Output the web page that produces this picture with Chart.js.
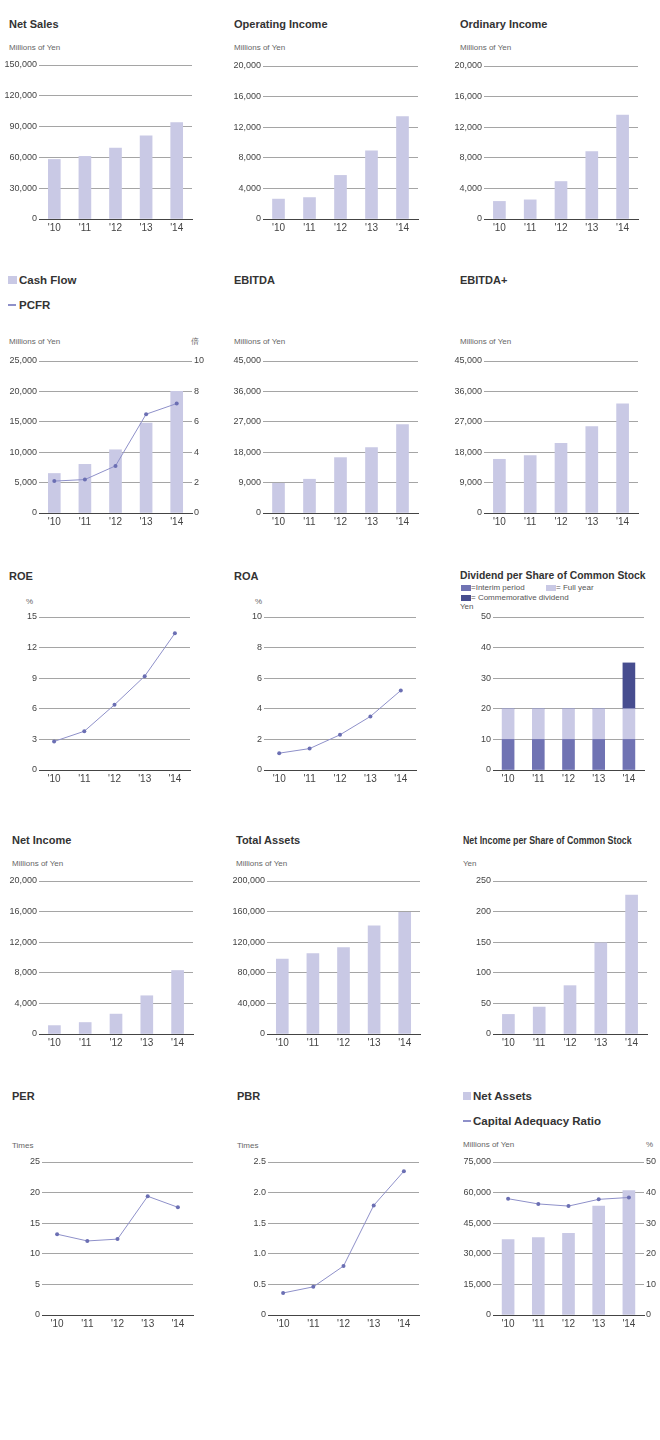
<!DOCTYPE html>
<html>
<head>
<meta charset="utf-8">
<script src="https://cdn.jsdelivr.net/npm/chart.js@4/dist/chart.umd.min.js"></script>
<style>
body { margin: 0; background: #fff; font-family: "Helvetica Neue", Helvetica, Arial, "Liberation Sans", sans-serif; }
#page { position: relative; width: 660px; height: 1440px; overflow: hidden; }
.t { position: absolute; white-space: nowrap; line-height: 14px; height: 14px; }
.title { font-size: 11px; font-weight: bold; color: #333; }
.narrow { transform: scaleX(0.94); transform-origin: left center; }
.narrower { font-size: 10.5px; transform: scaleX(0.84); transform-origin: left center; }
.unit { font-size: 8px; color: #666; }
.leg { font-size: 11.5px; font-weight: bold; color: #333; }
.small { font-size: 8px; color: #555; }
.box { position: absolute; }
canvas { position: absolute; }
</style>
</head>
<body>
<div id="page"></div>
<script>
const years = ["'10", "'11", "'12", "'13", "'14"];

const netSales = [58000, 61000, 69000, 81000, 94000];
const netSalesTicks = [0, 30000, 60000, 90000, 120000, 150000];
const operatingIncome = [2600, 2800, 5700, 8900, 13400];
const operatingTicks = [0, 4000, 8000, 12000, 16000, 20000];
const ordinaryIncome = [2300, 2500, 4900, 8800, 13600];
const ordinaryTicks = [0, 4000, 8000, 12000, 16000, 20000];

const cashFlow = [6500, 8000, 10400, 14800, 20000];
const cashFlowTicks = [0, 5000, 10000, 15000, 20000, 25000];
const pcfr = [2.1, 2.2, 3.1, 6.5, 7.2];
const pcfrTicks = [0, 2, 4, 6, 8, 10];
const ebitda = [8800, 10000, 16400, 19400, 26200];
const ebitdaTicks = [0, 9000, 18000, 27000, 36000, 45000];
const ebitdaPlus = [15900, 17000, 20600, 25600, 32300];
const ebitdaPlusTicks = [0, 9000, 18000, 27000, 36000, 45000];

const roe = [2.8, 3.8, 6.4, 9.2, 13.4];
const roeTicks = [0, 3, 6, 9, 12, 15];
const roa = [1.1, 1.4, 2.3, 3.5, 5.2];
const roaTicks = [0, 2, 4, 6, 8, 10];
const dividendInterim = [10, 10, 10, 10, 10];
const dividendFullYear = [10, 10, 10, 10, 10];
const dividendCommemorative = [0, 0, 0, 0, 15];
const dividendTicks = [0, 10, 20, 30, 40, 50];

const netIncome = [1100, 1500, 2600, 5000, 8300];
const netIncomeTicks = [0, 4000, 8000, 12000, 16000, 20000];
const totalAssets = [98000, 105000, 113000, 141500, 159000];
const totalAssetsTicks = [0, 40000, 80000, 120000, 160000, 200000];
const netIncomePerShare = [32, 44, 79, 149, 227];
const netIncomePerShareTicks = [0, 50, 100, 150, 200, 250];

const per = [13.2, 12.1, 12.4, 19.4, 17.6];
const perTicks = [0, 5, 10, 15, 20, 25];
const pbr = [0.36, 0.46, 0.80, 1.79, 2.35];
const pbrTicks = [0, 0.5, 1.0, 1.5, 2.0, 2.5];
const netAssets = [37000, 38000, 40000, 53400, 61000];
const netAssetsTicks = [0, 15000, 30000, 45000, 60000, 75000];
const capitalAdequacy = [38.0, 36.3, 35.6, 37.8, 38.4];
const capitalAdequacyTicks = [0, 10, 20, 30, 40, 50];

const BAR = '#c9c9e5';
const LINE = '#8e90c9';
const POINT = '#6b6fb3';
const GRID = '#a5a5a5';
const AXIS = '#444';

const page = document.getElementById('page');

function text(x, y, str, cls) {
    const d = document.createElement('div');
    d.className = 't ' + cls;
    d.style.left = x + 'px';
    d.style.top = (y - 7) + 'px';
    d.textContent = str;
    page.appendChild(d);
    return d;
}

function swatch(x, y, w, h, color) {
    const d = document.createElement('div');
    d.className = 'box';
    d.style.left = x + 'px';
    d.style.top = y + 'px';
    d.style.width = w + 'px';
    d.style.height = h + 'px';
    d.style.background = color;
    page.appendChild(d);
}

const numFmt = v => v === 0 ? '0' : v.toLocaleString('en-US');
const decFmt = v => v === 0 ? '0' : v.toFixed(1);

function yAxis(ticks, width, position, fmt) {
    const right = position === 'right';
    return {
        position: position || 'left',
        min: ticks[0],
        max: ticks[ticks.length - 1],
        afterBuildTicks: s => { s.ticks = ticks.map(v => ({ value: v })); },
        afterFit: s => { s.width = width; },
        grid: {
            display: !right,
            drawTicks: false,
            lineWidth: 1,
            color: c => c.tick && c.tick.value === 0 ? AXIS : GRID
        },
        border: { display: false },
        ticks: {
            padding: 2,
            color: '#444',
            font: { size: 9 },
            callback: fmt || numFmt
        }
    };
}

function xAxis() {
    return {
        offset: true,
        grid: { display: false, drawTicks: false },
        border: { display: true, color: AXIS, width: 1 },
        afterFit: s => { s.height = 18; },
        ticks: { padding: 3, color: '#444', font: { size: 10 } }
    };
}

function barSet(data, color) {
    return {
        type: 'bar', data: data, backgroundColor: color || BAR,
        barThickness: 12, order: 2, yAxisID: 'y'
    };
}

function lineSet(data, axis) {
    return {
        type: 'line', data: data, borderColor: LINE, borderWidth: 1,
        pointRadius: 2, pointBackgroundColor: POINT, pointBorderWidth: 0,
        tension: 0, order: 1, yAxisID: axis || 'y'
    };
}

// area = plot rectangle on the page: left, right, top, bottom
function makeChart(area, datasets, ticks, opts) {
    opts = opts || {};
    const yw = 40;
    const rw = opts.rightTicks ? 16 : 0;
    const padTop = 8;
    const left = area.left - yw;
    const top = area.top - padTop;
    const w = (area.right - area.left) + yw + rw + 2;
    const h = (area.bottom - area.top) + padTop + 18;

    const cv = document.createElement('canvas');
    cv.style.left = left + 'px';
    cv.style.top = top + 'px';
    cv.width = w;
    cv.height = h;
    cv.style.width = w + 'px';
    cv.style.height = h + 'px';
    page.appendChild(cv);

    const scales = {
        x: xAxis(),
        y: yAxis(ticks, yw, 'left', opts.fmt)
    };
    if (opts.rightTicks) {
        scales.y2 = yAxis(opts.rightTicks, rw, 'right');
    }
    if (opts.stacked) {
        scales.x.stacked = true;
        scales.y.stacked = true;
    }

    new Chart(cv.getContext('2d'), {
        data: { labels: years, datasets: datasets },
        options: {
            responsive: false,
            animation: false,
            layout: { padding: { top: padTop, right: 2, left: 0, bottom: 0 } },
            plugins: { legend: { display: false }, tooltip: { enabled: false } },
            scales: scales
        }
    });
}

// row 1
text(9, 24, 'Net Sales', 'title');
text(9, 48, 'Millions of Yen', 'unit');
makeChart({ left: 39, right: 192, top: 65, bottom: 219 }, [barSet(netSales)], netSalesTicks);

text(234, 24, 'Operating Income', 'title');
text(234, 48, 'Millions of Yen', 'unit');
makeChart({ left: 263, right: 418, top: 66, bottom: 219 }, [barSet(operatingIncome)], operatingTicks);

text(460, 24, 'Ordinary Income', 'title');
text(460, 48, 'Millions of Yen', 'unit');
makeChart({ left: 484, right: 638, top: 66, bottom: 219 }, [barSet(ordinaryIncome)], ordinaryTicks);

// row 2
swatch(8, 276, 9, 8, BAR);
text(19, 280, 'Cash Flow', 'leg');
swatch(8, 304, 8, 1.5, LINE);
text(19, 305, 'PCFR', 'leg');
text(9, 342, 'Millions of Yen', 'unit');
text(191, 342, '倍', 'unit');
makeChart({ left: 39, right: 192, top: 361, bottom: 513 },
    [barSet(cashFlow), lineSet(pcfr, 'y2')], cashFlowTicks, { rightTicks: pcfrTicks });

text(234, 280, 'EBITDA', 'title');
text(234, 342, 'Millions of Yen', 'unit');
makeChart({ left: 263, right: 418, top: 361, bottom: 513 }, [barSet(ebitda)], ebitdaTicks);

text(460, 280, 'EBITDA+', 'title');
text(460, 342, 'Millions of Yen', 'unit');
makeChart({ left: 484, right: 638, top: 361, bottom: 513 }, [barSet(ebitdaPlus)], ebitdaPlusTicks);

// row 3
text(9, 576, 'ROE', 'title');
text(26, 602, '%', 'unit');
makeChart({ left: 39, right: 192, top: 617, bottom: 770 }, [lineSet(roe)], roeTicks);

text(234, 576, 'ROA', 'title');
text(255, 602, '%', 'unit');
makeChart({ left: 264, right: 418, top: 617, bottom: 770 }, [lineSet(roa)], roaTicks);

text(460, 575, 'Dividend per Share of Common Stock', 'title narrow');
swatch(461, 585, 10, 6, '#7073b3');
text(471, 588, '=Interim period', 'small');
swatch(546, 585, 10, 6, BAR);
text(556, 588, '= Full year', 'small');
swatch(461, 595, 10, 6, '#474d8f');
text(471, 598, '= Commemorative dividend', 'small');
text(460, 607, 'Yen', 'small');
makeChart({ left: 493, right: 644, top: 617, bottom: 770 }, [
    barSet(dividendInterim, '#7073b3'),
    barSet(dividendFullYear, BAR),
    barSet(dividendCommemorative, '#474d8f')
], dividendTicks, { stacked: true });

// row 4
text(12, 840, 'Net Income', 'title');
text(12, 864, 'Millions of Yen', 'unit');
makeChart({ left: 39, right: 193, top: 881, bottom: 1034 }, [barSet(netIncome)], netIncomeTicks);

text(236, 840, 'Total Assets', 'title');
text(236, 864, 'Millions of Yen', 'unit');
makeChart({ left: 267, right: 420, top: 881, bottom: 1034 }, [barSet(totalAssets)], totalAssetsTicks);

text(463, 840, 'Net Income per Share of Common Stock', 'title narrower');
text(463, 864, 'Yen', 'unit');
makeChart({ left: 493, right: 647, top: 881, bottom: 1034 }, [barSet(netIncomePerShare)], netIncomePerShareTicks);

// row 5
text(12, 1096, 'PER', 'title');
text(12, 1146, 'Times', 'unit');
makeChart({ left: 42, right: 195, top: 1162, bottom: 1315 }, [lineSet(per)], perTicks);

text(237, 1096, 'PBR', 'title');
text(237, 1146, 'Times', 'unit');
makeChart({ left: 268, right: 421, top: 1162, bottom: 1315 }, [lineSet(pbr)], pbrTicks, { fmt: decFmt });

swatch(463, 1092, 8, 8, BAR);
text(473, 1096, 'Net Assets', 'leg');
swatch(463, 1120, 8, 1.5, LINE);
text(473, 1121, 'Capital Adequacy Ratio', 'leg');
text(463, 1145, 'Millions of Yen', 'unit');
text(646, 1145, '%', 'unit');
makeChart({ left: 493, right: 644, top: 1162, bottom: 1315 },
    [barSet(netAssets), lineSet(capitalAdequacy, 'y2')], netAssetsTicks, { rightTicks: capitalAdequacyTicks });
</script>
</body>
</html>
